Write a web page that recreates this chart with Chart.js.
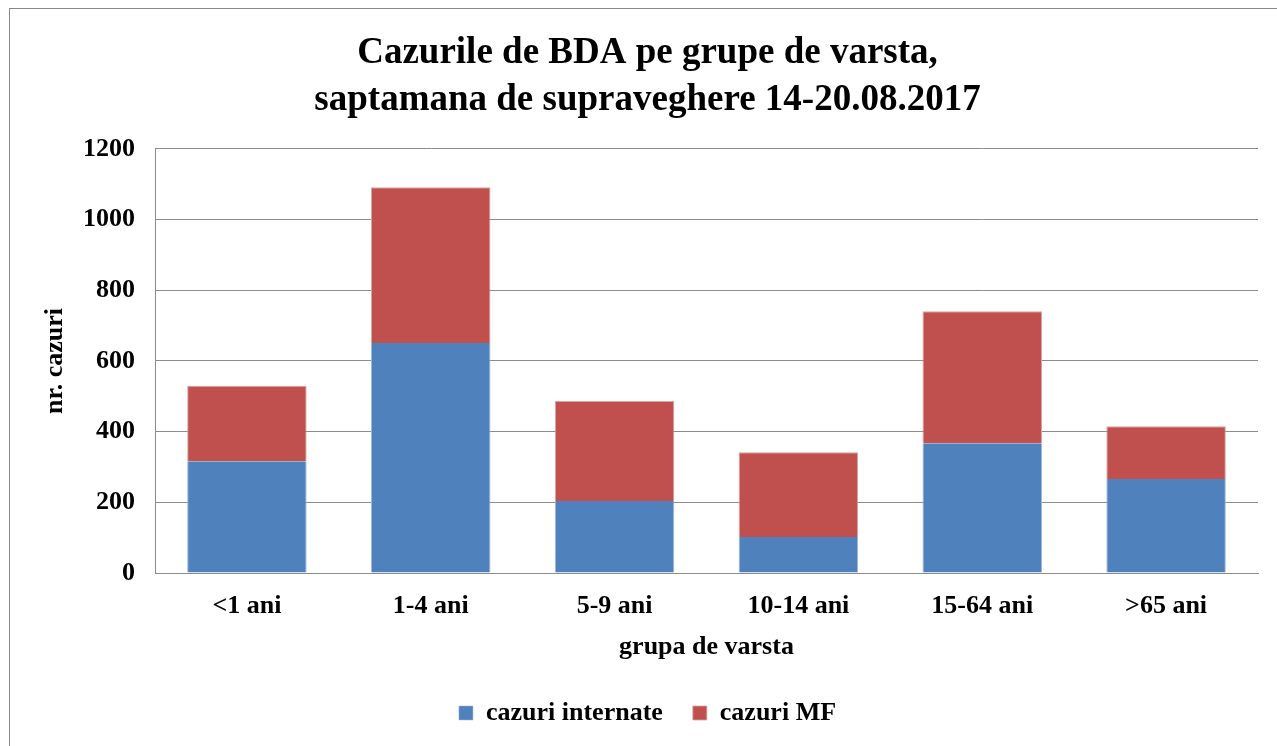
<!DOCTYPE html>
<html>
<head>
<meta charset="utf-8">
<script src="https://cdn.jsdelivr.net/npm/chart.js@4.4.1/dist/chart.umd.min.js"></script>
<style>
  html, body { margin: 0; padding: 0; background: #fff; overflow: hidden; }
  #wrap { position: absolute; left: 0; top: 0; width: 1285px; height: 746px; }
  #frame { position: absolute; left: 9px; top: 8px; width: 1400px; height: 800px; border: 1px solid #8a8a8a; }
</style>
</head>
<body>
<div id="frame"></div>
<div id="wrap"><canvas id="chart" width="1285" height="746"></canvas></div>
<script>
// date
const grupe = ['<1 ani', '1-4 ani', '5-9 ani', '10-14 ani', '15-64 ani', '>65 ani'];
const cazuriInternate = [316, 651, 204, 102, 367, 266];
const cazuriMF = [214, 441, 283, 240, 374, 149];
const titlu = ['Cazurile de BDA pe grupe de varsta,', 'saptamana de supraveghere 14-20.08.2017'];

const serif = '"Liberation Serif", "Times New Roman", serif';
const gri = '#8c8c8c';

const ctx = document.getElementById('chart').getContext('2d');
new Chart(ctx, {
    type: 'bar',
    data: {
        labels: grupe,
        datasets: [{
            label: 'cazuri internate',
            data: cazuriInternate,
            backgroundColor: '#4F81BD',
            borderColor: '#9db6dc',
            borderWidth: { left: 1, right: 1, top: 0, bottom: 0 },
            borderSkipped: false
        }, {
            label: 'cazuri MF',
            data: cazuriMF,
            backgroundColor: '#C0504D',
            borderColor: '#dba3a1',
            borderWidth: { left: 1, right: 1, top: 1, bottom: 0 },
            borderSkipped: false
        }]
    },
    options: {
        responsive: false,
        animation: false,
        barPercentage: 0.65,
        categoryPercentage: 1.0,
        layout: { padding: { left: 10, right: 0, top: 10, bottom: 10 } },
        plugins: {
            title: {
                display: true,
                text: titlu,
                color: '#000',
                font: { family: serif, size: 37, weight: 'bold', lineHeight: 1.27 },
                padding: { top: 20, bottom: 25 }
            },
            legend: {
                position: 'bottom',
                labels: {
                    color: '#000',
                    boxWidth: 14,
                    boxHeight: 14,
                    padding: 30,
                    font: { family: serif, size: 26, weight: 'bold' }
                }
            },
            tooltip: { enabled: false }
        },
        scales: {
            x: {
                stacked: true,
                grid: { display: false, drawTicks: false },
                border: { display: true, color: gri, width: 1 },
                ticks: { color: '#000', padding: 20, font: { family: serif, size: 26, weight: 'bold', lineHeight: 1.0 } },
                title: {
                    display: true,
                    text: 'grupa de varsta',
                    color: '#000',
                    font: { family: serif, size: 26, weight: 'bold' },
                    padding: { top: 0, bottom: 7 }
                },
                afterFit: function(scale) { scale.height = 97; }
            },
            y: {
                stacked: true,
                min: 0,
                max: 1200,
                ticks: {
                    stepSize: 200,
                    color: '#000',
                    padding: 20,
                    font: { family: serif, size: 26, weight: 'bold' },
                    callback: function(value) { return String(value); }
                },
                grid: { color: gri, lineWidth: 1, drawTicks: false },
                border: { display: true, color: gri, width: 1 },
                title: {
                    display: true,
                    text: 'nr. cazuri',
                    color: '#000',
                    font: { family: serif, size: 26, weight: 'bold' },
                    padding: { top: 30, bottom: 0 }
                },
                afterFit: function(scale) { scale.width = 145; }
            },
            dreapta: {
                position: 'right',
                display: true,
                grid: { display: false, drawTicks: false },
                border: { display: false },
                ticks: { display: false },
                afterFit: function(scale) { scale.width = 27; }
            }
        }
    }
});
</script>
</body>
</html>
